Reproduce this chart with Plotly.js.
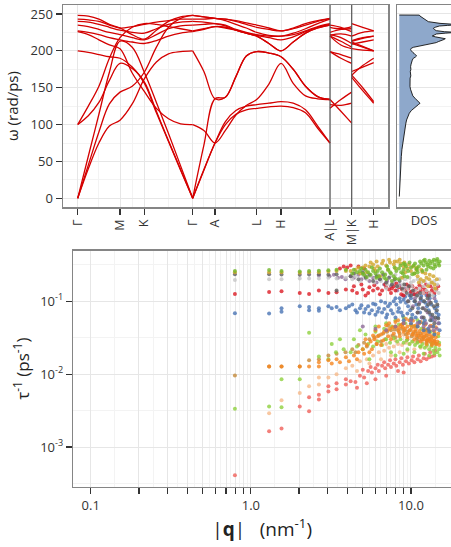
<!DOCTYPE html>
<html><head><meta charset="utf-8">
<script src="https://cdn.plot.ly/plotly-3.0.1.min.js"></script>
<style>html,body{margin:0;padding:0;background:#fff}#chart{width:451px;height:547px}</style>
</head><body><div id="chart"></div>
<script>
// ---------- phonon dispersion: k-path ----------
const kMain = [0, 10.6, 21.2, 31.7, 42.3, 54.5, 66.6, 78.7, 90.8, 102.9, 115, 126.2, 137.3, 147.7, 158.2, 168.6, 179, 191.2, 203.3, 215.5, 227.8, 240, 252.3];
const kLM = [252.3, 263.2, 274];
const kKH = [274, 285, 296];
const pathTickPos = [0, 42.3, 66.6, 115, 137.3, 179, 203.3, 252.3, 274, 296];
const pathTickText = ['Γ', 'M', 'K', 'Γ', 'A', 'L', 'H', 'A|L', 'M|K', 'H'];
const pathBreaks = [252.3, 274];

// band frequencies (rad/ps) along Γ-M-K-Γ-A-L-H-A
const bandsMain = [
  [0, 40, 75, 98, 106, 128, 162, 185, 196, 199, 200, 172, 135, 137, 165, 193, 199, 197, 192, 175, 152, 138, 134],
  [0, 45, 90, 128, 144, 152, 171, 205, 232, 244, 248, 246, 244, 243, 240, 236, 232, 229, 227, 230, 235, 240, 244],
  [0, 57, 114, 171, 213, 205, 171, 130, 88, 44, 0, 72, 135, 137, 165, 193, 199, 197, 192, 175, 152, 138, 134],
  [100, 125, 152, 190, 218, 232, 237, 236, 233, 230, 227, 230, 233, 231, 228, 224, 220, 210, 200, 212, 224, 231, 235],
  [100, 112, 130, 160, 183, 176, 158, 118, 78, 39, 0, 38, 75, 100, 114, 120, 122, 124, 125, 123, 116, 95, 75],
  [200, 198, 195, 192, 190, 178, 156, 116, 77, 38, 0, 39, 75, 104, 119, 125, 127, 129, 131, 129, 120, 98, 75],
  [226, 222, 215, 208, 203, 170, 145, 122, 108, 101, 100, 92, 75, 92, 113, 126, 134, 155, 183, 156, 139, 135, 134],
  [227, 225, 222, 218, 215, 212, 210, 214, 220, 224, 226, 229, 233, 232, 228, 224, 220, 210, 200, 212, 224, 231, 235],
  [235, 233, 229, 225, 222, 218, 215, 222, 230, 234, 235, 236, 237, 235, 229, 225, 222, 220, 220, 222, 227, 233, 237],
  [240, 239, 236, 232, 228, 225, 224, 230, 236, 239, 240, 239, 237, 234, 228, 224, 221, 218, 215, 219, 226, 232, 236],
  [243, 242, 240, 235, 231, 233, 236, 239, 241, 243, 243, 243, 244, 241, 236, 231, 225, 221, 220, 224, 230, 237, 243],
  [248, 247, 243, 236, 231, 222, 216, 228, 240, 246, 248, 246, 244, 243, 241, 238, 235, 231, 227, 231, 237, 241, 244]
];
// L-M
const bandsLM = [
  [199, 195, 190], [232, 230, 233], [199, 190, 183], [220, 213, 205], [122, 134, 144], [127, 126, 129],
  [134, 118, 102], [220, 208, 203], [222, 218, 210], [221, 223, 220], [225, 229, 230], [235, 232, 226]
];
// K-H
const bandsKH = [
  [210, 205, 200], [220, 225, 227], [167, 180, 190], [212, 206, 200], [164, 146, 129], [167, 150, 131],
  [172, 178, 184], [203, 201, 200], [214, 218, 220], [209, 212, 215], [213, 217, 220], [237, 232, 227]
];

// ---------- DOS ----------
const dosOmega = [248.6, 248.5, 247.2, 244.1, 241, 239.6, 237.3, 235.5, 234.5, 233.7, 232, 230.5, 229, 227.4, 226, 225.1, 224, 222.9, 221.5, 220.2, 219, 217.9, 216.5, 215.6, 214, 212.5, 211.2, 210.2, 209, 208, 206.5, 204.8, 203.5, 202.1, 200.5, 199, 197.8, 196.7, 195, 193.1, 191.5, 189.9, 187.5, 185.4, 182, 178.6, 175, 172, 169.6, 166, 163, 160.5, 157, 154, 151.5, 148, 145, 142.5, 139, 135.7, 133, 131.2, 128.9, 127, 125.3, 122.2, 119, 115.4, 111, 106.3, 102, 97.3, 93, 88.2, 82, 74.7, 66, 56.6, 45, 34, 20, 10, 2.4, 2.4];
const dosValue = [0, 20, 20.7, 24, 27, 29, 40.7, 60, 48, 40, 36, 34, 35, 37, 45, 58, 46, 37, 35, 33, 36, 42, 46, 45, 41, 39, 37, 33, 28, 24, 18, 14, 12, 11.3, 11.8, 12.3, 13.5, 14.7, 16, 17.3, 16, 14, 13, 12.3, 11.8, 11.3, 11.6, 11, 11.3, 11.5, 10.8, 10.7, 11, 10.5, 10.7, 11.2, 11.8, 12.3, 13.5, 15.7, 17.5, 19, 20.7, 19, 17.3, 14, 12, 10, 8.6, 7.3, 6.6, 6, 5.3, 4.7, 4, 3.3, 2.6, 2, 1.5, 1, 0.6, 0.4, 0.3, 0];

// ---------- scattering rates: |q| (nm^-1) and 1/tau (ps^-1) per branch ----------
const qSalmon = [0.795,1.30,1.554,2.02,2.31,2.31,2.66,2.66,3.05,3.05,3.43,3.43,3.92,3.92,4.2,4.5,4.8,5.1,5.4,5.7,6.0,6.3,6.6,6.9,7.2,7.5,7.8,8.1,8.5,8.9,9.3,9.7,10.1,10.5,11,11.5,12,12.5,13,13.5,14];
const rSalmon = [0.00041,0.00164,0.0018,0.0036,0.0031,0.0048,0.0052,0.0045,0.0058,0.0068,0.0062,0.0075,0.0072,0.0085,0.008,0.0078,0.0095,0.009,0.011,0.0105,0.012,0.011,0.013,0.012,0.0135,0.0125,0.014,0.013,0.0145,0.0135,0.015,0.014,0.0155,0.0145,0.016,0.015,0.0165,0.016,0.017,0.0175,0.018];
const qSalmonB = [5.0,5.6,6.2,6.8,7.4,8.0,8.7,9.5,10.3,11.2,12.2,13.2,14.2,4.6,5.3,6.0,7.0,8.3,9.0];
const rSalmonB = [0.0115,0.0125,0.0135,0.0145,0.0155,0.016,0.0165,0.017,0.0175,0.018,0.019,0.02,0.021,0.0065,0.0075,0.0085,0.0095,0.011,0.0105];
const qPeach = [1.30,1.554,2.02,2.31,2.66,2.66,3.05,3.43,3.92,4.3,4.8,5.3,5.8,6.3,6.8,7.3,7.8,8.3,8.8,9.3,9.8,10.3,10.8,11.3,11.8,12.3,12.8,13.3,13.8,6,7.5,9,10.5,12];
const rPeach = [0.0029,0.0044,0.0055,0.0068,0.0072,0.009,0.009,0.01,0.012,0.013,0.015,0.016,0.018,0.02,0.021,0.023,0.024,0.026,0.025,0.027,0.026,0.028,0.027,0.029,0.028,0.03,0.028,0.03,0.029,0.03,0.033,0.035,0.034,0.033];
const qPeachB = [4.6,5.5,6.5,7.5,8.5,9.5,10.5,11.5,12.5,13.5,14.5,7.0,8.0,11.0,13.0];
const rPeachB = [0.011,0.014,0.016,0.018,0.02,0.021,0.022,0.023,0.024,0.025,0.026,0.026,0.029,0.031,0.033];
const qTan = [0.795,1.30,1.554,2.02,2.31,2.66,3.05,3.43,3.9,4.3,4.7,5.1,5.5,5.9,6.3,6.7,7.1,7.5,7.9,8.3,8.7,9.1,9.5,9.9,10.3,10.7,11.1,11.5,12,12.5,13,13.5,14,6.5,8,9.5,11,12.5];
const rTan = [0.0096,0.0127,0.0127,0.0127,0.0155,0.016,0.018,0.019,0.02,0.022,0.025,0.027,0.03,0.032,0.034,0.036,0.038,0.04,0.041,0.04,0.042,0.04,0.038,0.04,0.036,0.038,0.034,0.036,0.032,0.034,0.03,0.032,0.028,0.028,0.032,0.03,0.028,0.027];
const qTanB = [4.5,5.3,6.1,6.9,7.7,8.5,9.3,10.1,10.9,11.7,12.6,13.4,14.2,7.2,8.8,10.4,12.2];
const rTanB = [0.02,0.024,0.026,0.03,0.034,0.036,0.035,0.033,0.031,0.03,0.029,0.027,0.026,0.046,0.048,0.045,0.04];
const qLightGreen = [0.795,1.30,1.554,1.554,2.02,2.31,2.66,3.05,3.4,3.8,4.2,4.6,5.0,5.4,5.8,6.2,6.6,7.0,7.4,7.8,8.2,8.6,9.0,9.4,9.8,10.2,10.6,11,11.4,11.8,12.2,12.6,13,13.4,13.8,14.2,14.6,15,6,7,8,9,10,11,4.8,12,5.5,7.5,9.5,11.5,13.5,15];
const rLightGreen = [0.00335,0.0036,0.0035,0.0085,0.0085,0.037,0.0175,0.016,0.02,0.022,0.02,0.024,0.022,0.026,0.024,0.028,0.025,0.03,0.027,0.031,0.028,0.03,0.027,0.029,0.026,0.028,0.025,0.027,0.024,0.026,0.023,0.025,0.022,0.024,0.021,0.023,0.02,0.022,0.045,0.05,0.055,0.06,0.058,0.055,0.04,0.05,0.016,0.02,0.022,0.024,0.026,0.027];
const qLightGreenB = [4.4,5.2,6.0,6.8,7.6,8.4,9.2,10.0,10.8,11.6,12.4,13.2,14.0,14.8,8.0,9.0,10.5,12.0,13.0,14.0,15.1,3.6,3.2];
const rLightGreenB = [0.03,0.035,0.038,0.042,0.045,0.048,0.05,0.047,0.045,0.042,0.04,0.038,0.036,0.033,0.018,0.019,0.02,0.019,0.018,0.019,0.018,0.03,0.026];
const qOrange = [1.30,1.554,2.02,2.31,2.66,2.66,3.05,3.2,3.43,3.6,3.92,4.1,4.4,4.7,5.0,5.3,5.6,5.9,6.2,6.5,6.8,7.1,7.4,7.7,8.0,8.3,8.6,8.9,9.2,9.5,9.8,10.1,10.4,10.7,11,11.3,11.6,11.9,12.2,12.5,12.8,13.1,13.4,13.7,14,14.3,14.6,5.5,6.5,7.5,8.5,9.5,10.5,11.5,12.5,13.5,6.0,7.0,8.0,9.0,10,11,12,13,14,9.8,11.5,13.6];
const rOrange = [0.0127,0.0127,0.0127,0.0127,0.0145,0.0127,0.0155,0.014,0.016,0.0145,0.017,0.015,0.018,0.02,0.022,0.025,0.028,0.03,0.033,0.035,0.038,0.04,0.042,0.044,0.045,0.043,0.046,0.044,0.042,0.045,0.04,0.043,0.038,0.041,0.036,0.039,0.034,0.037,0.033,0.036,0.031,0.035,0.03,0.033,0.029,0.032,0.028,0.02,0.025,0.03,0.033,0.032,0.03,0.028,0.026,0.025,0.04,0.047,0.052,0.05,0.048,0.045,0.042,0.04,0.038,0.055,0.052,0.045];
const qOrangeB = [4.6,5.1,5.7,6.1,6.7,7.2,7.8,8.4,9.0,9.6,10.2,10.8,11.4,12.0,12.6,13.2,13.8,14.4,15.0,6.3,7.3,8.3,9.3,10.3,11.3,12.3,13.3,14.3,8.8,10.6,12.6,14.8,5.2,5.8];
const rOrangeB = [0.016,0.019,0.022,0.026,0.029,0.033,0.036,0.038,0.038,0.036,0.035,0.034,0.032,0.03,0.029,0.028,0.027,0.026,0.025,0.045,0.05,0.055,0.057,0.054,0.05,0.048,0.046,0.044,0.048,0.046,0.04,0.036,0.03,0.034];
const qBlue = [0.795,1.30,1.554,1.554,2.02,2.31,2.31,2.66,2.66,3.05,3.2,3.43,3.6,3.92,4.1,4.5,4.8,5.1,5.4,5.7,6.0,6.3,6.6,6.9,7.2,7.5,7.8,8.1,8.4,8.7,9.0,9.3,9.6,9.9,10.2,10.5,10.8,11.1,11.4,11.7,12,12.3,12.6,12.9,13.2,13.5,13.8,14.1,14.4,14.7,15,6.0,7.0,8.0,9.0,10,11,12,13,14,8.5,10,11.5];
const rBlue = [0.0686,0.068,0.072,0.08,0.085,0.083,0.075,0.08,0.074,0.085,0.08,0.083,0.075,0.08,0.085,0.075,0.08,0.07,0.085,0.075,0.09,0.08,0.07,0.095,0.085,0.075,0.1,0.09,0.08,0.07,0.105,0.095,0.085,0.075,0.065,0.1,0.09,0.08,0.07,0.06,0.05,0.095,0.085,0.075,0.065,0.055,0.045,0.08,0.07,0.06,0.05,0.065,0.06,0.06,0.055,0.05,0.045,0.04,0.038,0.035,0.11,0.11,0.105];
const qBlueB = [4.3,4.6,4.9,5.2,5.5,5.8,6.2,6.5,6.8,7.1,7.4,7.7,8.0,8.3,8.6,8.9,9.2,9.5,9.8,10.1,10.4,10.7,11.0,11.3,11.6,11.9,12.2,12.5,12.8,13.1,13.4,13.7,14.0,14.3,14.6,14.9,15.1];
const rBlueB = [0.09,0.07,0.088,0.078,0.068,0.092,0.072,0.1,0.078,0.066,0.092,0.068,0.11,0.072,0.098,0.063,0.115,0.068,0.12,0.058,0.125,0.06,0.12,0.052,0.118,0.1,0.055,0.12,0.042,0.11,0.09,0.06,0.12,0.1,0.085,0.065,0.04];
const qPurple = [2.66,3.1,3.5,3.9,4.4,4.9,5.5,6.1,6.8,7.5,8.2,8.9,9.6,10.3,11,11.7,12.4,13.1,13.8,14.5,5.0,6.0,7.0,8.0,9.0,10.0,11.0,12.0];
const rPurple = [0.225,0.22,0.21,0.2,0.21,0.2,0.19,0.18,0.17,0.16,0.14,0.12,0.1,0.085,0.07,0.06,0.05,0.045,0.04,0.042,0.045,0.042,0.04,0.045,0.05,0.055,0.05,0.045];
const qPurpleB = [3.3,3.7,4.2,4.7,5.2,5.8,6.4,7.1,7.8,8.5,9.2,9.9,10.6,11.3,12.0,12.7,13.4,14.1,14.8,13,14];
const rPurpleB = [0.23,0.215,0.22,0.23,0.22,0.21,0.2,0.19,0.18,0.165,0.15,0.13,0.11,0.095,0.08,0.07,0.06,0.055,0.05,0.1,0.11];
const qRed = [0.795,1.30,1.554,2.02,2.31,2.66,3.05,3.43,3.92,4.3,4.6,5.0,5.4,5.8,6.2,6.6,7.0,7.3,7.6,8.0,8.4,8.8,9.2,9.6,10,10.5,11,11.5,12,12.5,13,13.5,14,3.8,4.0,4.2,3.6,5.5,7.8,9.8,12.2];
const rRed = [0.126,0.134,0.137,0.13,0.126,0.14,0.13,0.133,0.145,0.14,0.13,0.145,0.13,0.14,0.15,0.14,0.155,0.145,0.15,0.14,0.155,0.145,0.14,0.15,0.135,0.14,0.13,0.14,0.13,0.135,0.13,0.14,0.13,0.3,0.29,0.31,0.28,0.155,0.16,0.16,0.145];
const qRedB = [4.4,4.9,5.2,5.9,6.4,6.9,7.5,8.1,8.7,9.4,10.2,10.8,11.3,11.8,12.4,13.2,13.8,14.4,14.8,4.7,5.1,9.0,10.5,12.8];
const rRedB = [0.16,0.17,0.12,0.165,0.125,0.17,0.13,0.175,0.125,0.17,0.16,0.15,0.165,0.155,0.17,0.16,0.15,0.145,0.16,0.3,0.28,0.12,0.125,0.12];
const qLightGray = [0.795,1.30,1.554,2.02,2.31,2.66,3.05,3.43,3.92,4.3,4.8,5.3,5.9,6.5,7.1,7.7,8.3,8.9,9.5,10.1,10.7,11.3,11.9,12.5,13.1,13.7,14.3,14.9,6.0,8.0,10,12,14];
const rLightGray = [0.196,0.2,0.2,0.205,0.205,0.205,0.21,0.205,0.21,0.2,0.19,0.2,0.18,0.19,0.17,0.18,0.16,0.17,0.15,0.16,0.14,0.15,0.13,0.14,0.13,0.12,0.14,0.13,0.21,0.195,0.18,0.16,0.15];
const qLightGrayB = [4.5,5.0,5.6,6.2,6.8,7.4,8.0,8.6,9.2,9.8,10.4,11.0,11.6,12.2,12.8,13.4,14.0,14.6,15.0,7.0,9.0,11];
const rLightGrayB = [0.22,0.23,0.22,0.23,0.24,0.22,0.23,0.21,0.2,0.21,0.19,0.2,0.18,0.19,0.17,0.18,0.19,0.17,0.2,0.15,0.14,0.12];
const qDarkGray = [0.795,1.30,1.554,2.02,2.31,2.66,3.05,3.43,3.43,4.2,4.7,5.2,5.8,6.4,7.0,7.6,8.2,8.8,9.4,10,10.6,11.2,11.8,12.4,13,13.6,14.2,14.8,10.2,11,12,13.2,14,9.6,12.8,14.5];
const rDarkGray = [0.234,0.235,0.232,0.23,0.232,0.235,0.23,0.235,0.14,0.22,0.2,0.21,0.19,0.2,0.18,0.17,0.16,0.15,0.13,0.12,0.1,0.09,0.08,0.075,0.07,0.065,0.06,0.058,0.08,0.07,0.06,0.055,0.05,0.1,0.09,0.075];
const qDarkGrayB = [4.4,5.0,5.5,6.1,6.7,7.3,7.9,8.5,9.1,9.7,10.3,10.9,11.5,12.1,12.7,13.3,13.9,14.6,11.4,13.0];
const rDarkGrayB = [0.24,0.25,0.23,0.22,0.23,0.21,0.2,0.19,0.17,0.16,0.14,0.12,0.11,0.1,0.11,0.095,0.085,0.09,0.13,0.12];
const qGold = [0.795,1.30,1.554,2.02,2.31,2.66,3.05,3.43,3.92,4.5,5.0,5.5,5.8,6.2,6.6,7.0,7.4,7.8,8.2,8.6,9.0,9.5,10,10.5,11,11.5,12,12.5,13,13.5,14,6.0,7.2,8.0,9.2,10.8,11.8,4.8,5.3];
const rGold = [0.25,0.25,0.25,0.245,0.25,0.25,0.255,0.26,0.26,0.27,0.29,0.3,0.32,0.3,0.33,0.31,0.34,0.32,0.35,0.33,0.3,0.28,0.26,0.24,0.22,0.2,0.19,0.21,0.2,0.18,0.17,0.26,0.27,0.28,0.25,0.27,0.25,0.24,0.25];
const qGoldB = [4.2,4.7,5.2,5.6,6.1,6.7,7.3,7.9,8.5,9.1,9.7,10.3,10.9,11.6,12.3,13.1,13.8,14.5,6.4,8.8,11.2,12.8,14.2,5.9];
const rGoldB = [0.26,0.29,0.31,0.34,0.35,0.36,0.37,0.35,0.37,0.34,0.32,0.3,0.29,0.27,0.24,0.23,0.22,0.2,0.22,0.21,0.18,0.16,0.15,0.28];
const qGreen = [0.795,1.30,1.554,2.02,2.31,2.66,3.05,3.43,3.92,4.4,4.6,4.8,5.0,5.2,5.4,5.6,5.8,6.0,6.3,6.6,6.9,7.2,7.5,7.8,8.1,8.4,8.7,9.0,9.3,9.6,10.0,10.4,10.8,11.2,11.6,12.0,12.4,12.8,13.2,13.6,14.0,14.4,14.8,15.1,5.3,6.1,7.0,8.0,9.5,11.0,12.5,13.8,10.2,12.0,9.0];
const rGreen = [0.26,0.268,0.26,0.255,0.26,0.262,0.265,0.27,0.27,0.27,0.25,0.26,0.24,0.27,0.25,0.23,0.26,0.24,0.22,0.25,0.23,0.27,0.24,0.22,0.26,0.28,0.25,0.27,0.3,0.26,0.29,0.31,0.28,0.3,0.33,0.31,0.34,0.3,0.33,0.35,0.32,0.36,0.33,0.35,0.215,0.21,0.2,0.205,0.215,0.25,0.27,0.28,0.235,0.36,0.33];
const qGreenB = [4.9,5.7,6.4,7.1,7.9,8.6,9.2,9.8,10.6,11.4,12.2,13.0,13.9,14.6,4.3,5.1,6.8,7.6,8.4,9.1,10.5,11.8,13.3,14.2,15.0,6.2,7.4,8.9,10.9,12.7];
const rGreenB = [0.28,0.29,0.28,0.3,0.29,0.31,0.32,0.34,0.33,0.35,0.37,0.36,0.37,0.38,0.24,0.23,0.21,0.19,0.2,0.22,0.24,0.26,0.29,0.3,0.31,0.26,0.25,0.24,0.27,0.32];

const qTicks = [0.1,0.2,0.3,0.4,0.5,0.6,0.7,0.8,0.9,1,2,3,4,5,6,7,8,9,10];
const qTickLabels = {0.1: '0.1', 1: '1.0', 10: '10.0'};
const rTicks = [0.001, 0.01, 0.1];
const rTickText = ['10<sup>-3</sup>', '10<sup>-2</sup>', '10<sup>-1</sup>'];

// ---------- build ----------
const traces = [];
const splitIdx = kMain.indexOf(pathTickPos[3]);
bandsMain.forEach((b, i) => {
  const xs = [], ys = [];
  const piece = (kx, ky) => {
    if (xs.length) { xs.push(null); ys.push(null); }
    kx.forEach((v, j) => { xs.push(v); ys.push(ky[j]); });
  };
  piece(kMain.slice(0, splitIdx + 1), b.slice(0, splitIdx + 1));
  piece(kMain.slice(splitIdx), b.slice(splitIdx));
  piece(kLM, bandsLM[i]);
  piece(kKH, bandsKH[i]);
  traces.push({type: 'scatter', mode: 'lines', x: xs, y: ys, xaxis: 'x', yaxis: 'y', connectgaps: false,
    line: {color: '#d40000', width: 1.3, shape: 'spline', smoothing: 1}, hoverinfo: 'skip', showlegend: false});
});

traces.push({type: 'scatter', mode: 'lines', x: dosValue, y: dosOmega, xaxis: 'x2', yaxis: 'y2',
  fill: 'tozerox', fillcolor: '#8ea8cb', line: {color: '#111', width: 0.9}, hoverinfo: 'skip', showlegend: false});

const series = [
  [qSalmon.concat(qSalmonB), rSalmon.concat(rSalmonB), '#f0605a'],
  [qPeach.concat(qPeachB), rPeach.concat(rPeachB), '#f6b98a'],
  [qTan.concat(qTanB), rTan.concat(rTanB), '#c48a3a'],
  [qLightGreen.concat(qLightGreenB), rLightGreen.concat(rLightGreenB), '#8fd13f'],
  [qOrange.concat(qOrangeB), rOrange.concat(rOrangeB), '#f5861f'],
  [qBlue.concat(qBlueB), rBlue.concat(rBlueB), '#4a74b4'],
  [qPurple.concat(qPurpleB), rPurple.concat(rPurpleB), '#8e6b99'],
  [qRed.concat(qRedB), rRed.concat(rRedB), '#dc1c24'],
  [qLightGray.concat(qLightGrayB), rLightGray.concat(rLightGrayB), '#c6c6c6'],
  [qDarkGray.concat(qDarkGrayB), rDarkGray.concat(rDarkGrayB), '#5f5f5f'],
  [qGold.concat(qGoldB), rGold.concat(rGoldB), '#d2a52a'],
  [qGreen.concat(qGreenB), rGreen.concat(rGreenB), '#72b62a']
];
series.forEach(s => traces.push({type: 'scatter', mode: 'markers', x: s[0], y: s[1], xaxis: 'x3', yaxis: 'y3',
  marker: {size: 4, color: s[2], opacity: 0.8}, hoverinfo: 'skip', showlegend: false}));

const mids = a => a.slice(1).map((v, i) => (v + a[i]) / 2);
const gmids = a => a.slice(1).map((v, i) => Math.sqrt(v * a[i]));

const FONT = '"Open Sans", "Noto Sans", sans-serif';
const frame = {showline: true, linecolor: '#858585', linewidth: 1.5, zeroline: false};
const tickStyle = {ticks: 'outside', ticklen: 6, tickwidth: 1.2, tickcolor: '#333', tickfont: {family: FONT, size: 13, color: '#333'}};
const grid = {showgrid: true, gridcolor: '#e6e6e6', gridwidth: 1};

const layout = {
  width: 451, height: 547, margin: {l: 0, r: 0, t: 0, b: 0},
  paper_bgcolor: '#fff', plot_bgcolor: '#fff', showlegend: false, hovermode: false,
  font: {family: FONT, color: '#222'},
  xaxis: Object.assign({}, frame, tickStyle, grid, {domain: [63/451, 388/451], range: [-14.7, 310.3], anchor: 'y', mirror: true,
    tickmode: 'array', tickvals: pathTickPos, ticktext: pathTickText, tickangle: -90,
    tickfont: {family: FONT, size: 12.5, color: '#333'},
    minor: {tickmode: 'array', tickvals: mids(pathTickPos), showgrid: true, gridcolor: '#f3f3f3', ticks: ''}}),
  yaxis: Object.assign({}, frame, tickStyle, grid, {domain: [340/547, 542/547], range: [-11.8, 262.2], anchor: 'x', mirror: true,
    tickmode: 'array', tickvals: [0, 50, 100, 150, 200, 250],
    minor: {tickmode: 'array', tickvals: [25, 75, 125, 175, 225], showgrid: true, gridcolor: '#f3f3f3', ticks: ''},
    title: {text: 'ω (rad/ps)', font: {family: FONT, size: 15, color: '#222'}, standoff: 8}}),
  xaxis2: Object.assign({}, frame, {domain: [397/451, 1], range: [-2.3, 51.7], anchor: 'y2', mirror: true, showgrid: false,
    showticklabels: false, ticks: '', title: {text: 'DOS', font: {family: FONT, size: 13, color: '#333'}, standoff: 8}}),
  yaxis2: Object.assign({}, frame, grid, {domain: [340/547, 542/547], range: [-11.8, 262.2], anchor: 'x2', mirror: false,
    showticklabels: false, ticks: '', tickmode: 'array', tickvals: [0, 50, 100, 150, 200, 250],
    minor: {tickmode: 'array', tickvals: [25, 75, 125, 175, 225], showgrid: true, gridcolor: '#f3f3f3', ticks: ''}}),
  xaxis3: Object.assign({}, frame, tickStyle, grid, {domain: [73.3/451, 1], type: 'log', range: [-1.109, 1.25], anchor: 'y3', mirror: true,
    tickmode: 'array', tickvals: qTicks, ticktext: qTicks.map(v => qTickLabels[v] || ''),
    minor: {tickmode: 'array', tickvals: gmids(qTicks).concat([Math.sqrt(10 * 20)]), showgrid: true, gridcolor: '#f3f3f3', ticks: ''},
    title: {text: '|<b>q</b>|\u2002 (nm<sup>-1</sup>)', font: {family: FONT, size: 19, color: '#222'}, standoff: 10}}),
  yaxis3: Object.assign({}, frame, tickStyle, grid, {domain: [60.3/547, 296.3/547], type: 'log', range: [-3.544, -0.307], anchor: 'x3', mirror: false,
    tickmode: 'array', tickvals: rTicks, ticktext: rTickText,
    minor: {tickmode: 'array', tickvals: [-3.5, -2.5, -1.5, -0.5].map(e => Math.pow(10, e)), showgrid: true, gridcolor: '#f3f3f3', ticks: ''},
    title: {text: 'τ<sup>-1</sup> (ps<sup>-1</sup>)', font: {family: FONT, size: 17, color: '#222'}, standoff: 6}}),
  shapes: pathBreaks.map(b => ({type: 'line', xref: 'x', yref: 'y domain', x0: b, x1: b, y0: 0, y1: 1,
    line: {color: '#555', width: 1.2}}))
};

Plotly.newPlot('chart', traces, layout, {staticPlot: true, displayModeBar: false});
</script>
</body></html>
